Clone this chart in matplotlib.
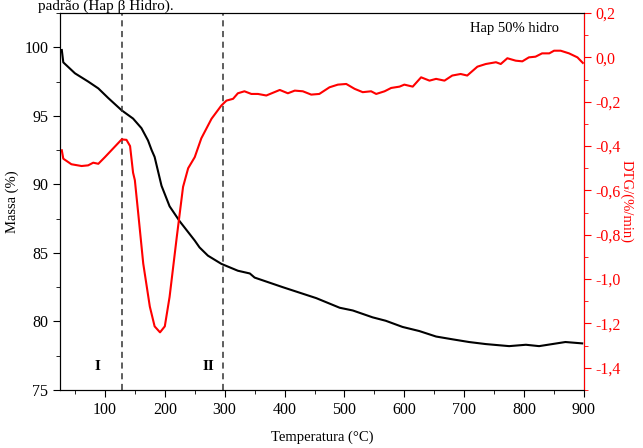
"""Recreate TGA/DTG plot for Hap 50% hidro."""

import matplotlib

matplotlib.use("Agg")
from matplotlib import pyplot as plt
from matplotlib.ticker import FuncFormatter, MultipleLocator

plt.rcParams["font.family"] = ["Liberation Serif", "DejaVu Serif"]

# Mass curve (TG), temperature in C and mass in %
temp_mass = [28, 30.5, 50, 72, 89, 105.5, 128, 147, 161, 172, 178, 183, 194.5,
             208, 225, 250, 258, 272, 294.5, 322, 342, 350, 397, 453, 492, 514,
             547, 569, 597, 625, 653, 680, 708, 736, 775, 803, 825, 869, 897]
mass = [99.8, 98.9, 98.1, 97.5, 97.0, 96.3, 95.4, 94.8, 94.1, 93.2, 92.5, 92.0, 89.9,
        88.4, 87.3, 85.9, 85.4, 84.8, 84.2, 83.7, 83.5, 83.2, 82.5, 81.7, 81.0, 80.8,
        80.3, 80.05, 79.6, 79.3, 78.9, 78.7, 78.5, 78.35, 78.2, 78.3, 78.2, 78.5, 78.4]

# Derivative curve (DTG), %/min
temp_dtg = [28, 30.5, 44, 61, 72, 80.5, 89, 100, 114, 128, 136, 142, 147, 150, 155.5,
            164, 175, 183, 192, 200, 208, 220, 230.5, 239, 250, 261, 278, 294.5,
            303, 314, 322, 333, 344.5, 355.5, 369.5, 392, 405.5, 417, 430.5, 444.5,
            458, 475, 489, 503, 517, 530.5, 544.5, 553, 567, 578, 592, 600, 614,
            628, 642, 653, 667, 680, 694, 705, 722, 736, 753, 761, 772, 786, 797,
            808, 819, 830, 842, 850, 861, 875, 889, 898]
dtg = [-0.419, -0.457, -0.482, -0.49, -0.487, -0.475, -0.48, -0.45, -0.41, -0.37,
       -0.372, -0.40, -0.52, -0.554, -0.70, -0.93, -1.124, -1.213, -1.24, -1.213,
       -1.08, -0.81, -0.584, -0.50, -0.45, -0.365, -0.277, -0.217, -0.195, -0.187,
       -0.162, -0.153, -0.165, -0.165, -0.172, -0.147, -0.162, -0.15, -0.153, -0.168,
       -0.165, -0.135, -0.123, -0.12, -0.142, -0.157, -0.153, -0.165, -0.153, -0.138,
       -0.132, -0.123, -0.132, -0.09, -0.105, -0.097, -0.105, -0.082, -0.075, -0.082,
       -0.042, -0.03, -0.022, -0.03, -0.004, -0.015, -0.018, 0.0, 0.003, 0.018,
       0.018, 0.03, 0.03, 0.018, 0.0, -0.025]

stage_limits = [128, 298]
stage_labels = ["I", "II"]
stage_label_x = [88, 273]

fig = plt.figure(figsize=(6.43, 4.48), dpi=100)
ax = fig.add_axes([60 / 643, 58 / 448, 524 / 643, 377 / 448])

# Caption line from the source document (sits at the very top edge)
fig.text(38 / 643, 1 - 10 / 448, "padrão (Hap β Hidro).", fontsize=11,
         va="baseline", ha="left")

ax.plot(temp_mass, mass, color="black", linewidth=1.5)
for x in stage_limits:
    ax.axvline(x, color="#333333", linestyle=(0, (4, 3)), linewidth=1.1)
for x, lab in zip(stage_label_x, stage_labels):
    ax.text(x, 76.7, lab, fontsize=11, fontweight="bold", ha="center", va="center")
ax.text(858, 101.4, "Hap 50% hidro", fontsize=10.5, ha="right", va="center")

ax.set_xlim(25, 900)
ax.set_ylim(75, 102.5)
ax.xaxis.set_major_locator(MultipleLocator(100))
ax.xaxis.set_minor_locator(MultipleLocator(50))
ax.yaxis.set_major_locator(MultipleLocator(5))
ax.yaxis.set_minor_locator(MultipleLocator(2.5))
ax.tick_params(which="major", direction="out", length=5, labelsize=11.5)
ax.tick_params(which="minor", direction="out", length=3)
ax.set_xlabel("Temperatura (°C)", fontsize=10.5)
ax.set_ylabel("Massa (%)", fontsize=10.5)
ax.xaxis.set_label_coords(0.5, -(431 - 390) / 377)
ax.yaxis.set_label_coords(-(60 - 19) / 524, 0.5)

ax2 = ax.twinx()
ax2.plot(temp_dtg, dtg, color="red", linewidth=1.5)
ax2.set_ylim(-1.5, 0.2)
ax2.yaxis.set_major_locator(MultipleLocator(0.2))
ax2.yaxis.set_minor_locator(MultipleLocator(0.1))
ax2.yaxis.set_major_formatter(
    FuncFormatter(lambda v, _: f"{v:.1f}".replace(".", ",").replace("−", "-")))
ax2.tick_params(which="major", direction="out", length=5, labelsize=11.5,
                colors="red")
ax2.tick_params(which="minor", direction="out", length=3, colors="red")
ax2.spines["right"].set_color("red")
ax2.set_ylabel("DTG/(%/min)", color="red", fontsize=10.5, rotation=270)
ax2.yaxis.set_label_coords((633 - 60) / 524, 0.5)

fig.savefig("out.png", dpi=100)
